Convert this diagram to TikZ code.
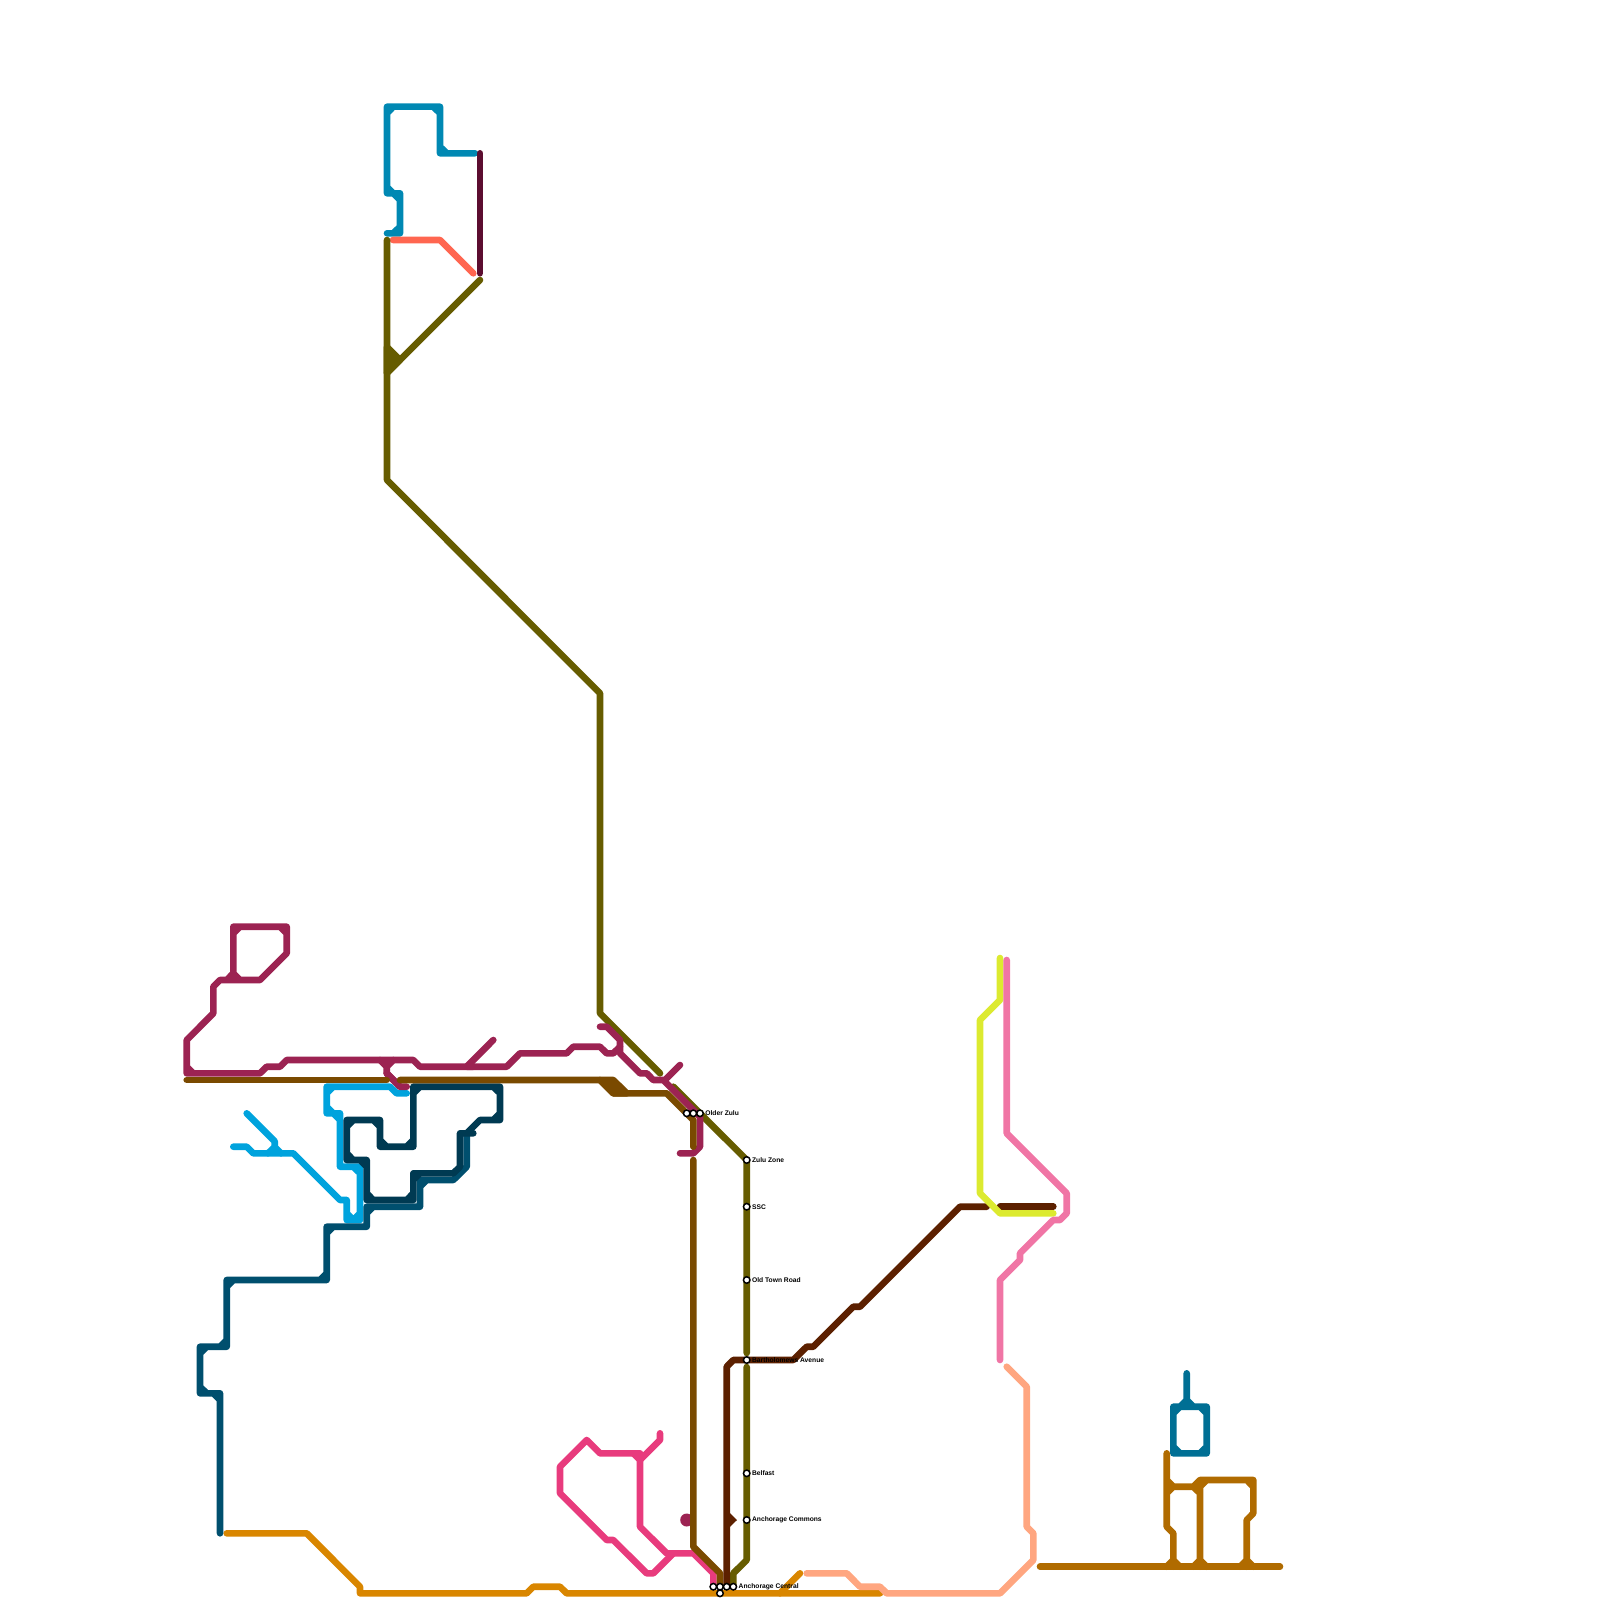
\documentclass[tikz,border=0pt]{standalone}
\usepackage{fontspec}
\setmainfont{Liberation Sans}
\usetikzlibrary{positioning}
\definecolor{oliveline}{HTML}{665C00}
\definecolor{cyanline}{HTML}{0088B3}
\definecolor{redline}{HTML}{FF6650}
\definecolor{plumline}{HTML}{5C0D30}
\definecolor{crimsonline}{HTML}{9C2352}
\definecolor{brownline}{HTML}{7A4A00}
\definecolor{rustline}{HTML}{5C2000}
\definecolor{skyline}{HTML}{00A3DD}
\definecolor{navyline}{HTML}{003A52}
\definecolor{tealline}{HTML}{004F6E}
\definecolor{seaTline}{HTML}{006F94}
\definecolor{amberline}{HTML}{B06B00}
\definecolor{orangeline}{HTML}{D98600}
\definecolor{salmonline}{HTML}{FFA680}
\definecolor{roseline}{HTML}{F075A5}
\definecolor{limeline}{HTML}{DCEA30}
\definecolor{magentaline}{HTML}{E83B7D}

\begin{document}
\begin{tikzpicture}[
    x=1pt, y=-1pt,
    track/.style={line width=6.6pt, line cap=round, line join=round},
    station/.style={
        circle, draw=black, fill=white, line width=1.5pt, minimum size=6.5pt,
        inner sep=0pt
    },
    stationlabel/.style={font=\bfseries\fontsize{6.7}{8}\selectfont, inner sep=0pt},
]
\useasboundingbox (0,0) rectangle (1600,1600);

% Light lines in the north
\draw[track, cyanline] (387,233.3) -- (400,233.3) -- (400,193.3) -- (393.3,193.3) -- (387,187) -- (387,106.7) -- (440,106.7) -- (440,153.3) -- (475,153.3)
    (387,113.3) -- (393.3,106.7) (433.3,106.7) -- (440,113.3) (440,146.7) -- (446.7,153.3) (393.3,233.3) -- (400,226.7) (387,187) -- (387,193.3) -- (393.3,193.3) (393.3,193.3) -- (400,200);
\draw[track, redline] (393,240) -- (440,240) -- (473.3,273.3);
\draw[track, plumline] (480,153.3) -- (480,273.3);

% Olive line
\draw[track, oliveline] (387,240) -- (387,480) -- (600,693.3) -- (600,1013.3) -- (660,1073.3);
\draw[track, oliveline, fill=oliveline] (387,347) -- (400,360) -- (387,373) -- cycle;
\draw[track, oliveline] (480,280) -- (387,373);
\draw[track, oliveline] (673.3,1086.7) -- (746.7,1160) -- (746.7,1353);
\draw[track, oliveline] (746.7,1367) -- (746.7,1560) -- (733.3,1573.3) -- (733.3,1586.7);

% Orange and salmon
\draw[track, orangeline] (226.7,1533.3) -- (306.7,1533.3) -- (360,1586.7) -- (360,1593.3) -- (526.7,1593.3) -- (533.3,1586.7) -- (560,1586.7) -- (566.7,1593.3) -- (880,1593.3);
\draw[track, orangeline] (800,1573.3) -- (780,1593.3);
\draw[track, salmonline] (806.7,1573.3) -- (846.7,1573.3) -- (860,1586.7) -- (880,1586.7) -- (886.7,1593.3) -- (1000,1593.3) -- (1033.3,1560) -- (1033.3,1533.3) -- (1026.7,1526.7) -- (1026.7,1386.7) -- (1006.7,1366.7);

% Magenta
\draw[track, magentaline] (660,1433.3) -- (660,1440) -- (640,1460) -- (640,1453.3) -- (600,1453.3) -- (586.7,1440) -- (560,1466.7) -- (560,1493.3) -- (606.7,1540) -- (613.3,1540) -- (646.7,1573.3) -- (653.3,1573.3) -- (673.3,1553.3);
\draw[track, magentaline] (633.3,1453.3) -- (640,1460) -- (640,1526.7) -- (666.7,1553.3) -- (693.3,1553.3) -- (713.3,1573.3) -- (713.3,1586.7);

% Crimson
\fill[crimsonline] (686.7,1520) circle (6.5pt);
\draw[track, crimsonline] (233.3,980) -- (233.3,926.7) -- (286.7,926.7) -- (286.7,953.3) -- (260,980) -- (220,980) -- (213.3,986.7) -- (213.3,1013.3) -- (186.7,1040) -- (186.7,1073.3) -- (260,1073.3) -- (266.7,1066.7) -- (280,1066.7) -- (286.7,1060) -- (413.3,1060) -- (420,1066.7) -- (506.7,1066.7) -- (520,1053.3) -- (566.7,1053.3) -- (573.3,1046.7) -- (600,1046.7) -- (606.7,1053.3) -- (613.3,1053.3) -- (620,1046.7)
    (233.3,933.3) -- (240,926.7) (280,926.7) -- (286.7,933.3) (226.7,980) -- (233.3,973.3) -- (240,980) (186.7,1066.7) -- (193.3,1073.3);
\draw[track, crimsonline] (600,1026.7) -- (606.7,1026.7) -- (620,1040) -- (620,1053.3) -- (640,1073.3) -- (646.7,1073.3) -- (653.3,1080) -- (663.3,1080) -- (700,1116.7) -- (700,1146.7) -- (693.3,1153.3) -- (680,1153.3);
\draw[track, crimsonline] (665,1080) -- (680,1065);
\draw[track, crimsonline] (466.7,1066.7) -- (493.3,1040) (466.7,1066.7) -- (473.3,1066.7);
\draw[track, crimsonline] (380,1060) -- (386.7,1066.7) -- (386.7,1073.3) -- (400,1086.7) (386.7,1066.7) -- (393.3,1060);

% Sky blue under the brown one
\draw[track, skyline] (233.3,1146.7) -- (246.7,1146.7) -- (253.3,1153.3) -- (293.3,1153.3) -- (340,1200) -- (346.7,1200) -- (346.7,1220) -- (360,1220) -- (360,1166.7) -- (340,1166.7) -- (340,1113.3) -- (326.7,1113.3) -- (326.7,1086.7) -- (390,1086.7) -- (396.7,1093.3) -- (406.7,1093.3)
    (346.7,1213.3) -- (353.3,1220) -- (360,1213.3) (326.7,1106.7) -- (333.3,1113.3) (326.7,1093.3) -- (333.3,1086.7) (333.3,1113.3) -- (340,1120) (353.3,1166.7) -- (360,1173.3);
\draw[track, skyline] (246.7,1113.3) -- (274.7,1141.3) -- (274.7,1147) -- (268,1153.3) (274.7,1147) -- (281,1153.3);
\draw[track, crimsonline] (386.7,1073.3) -- (400,1086.7) -- (406.7,1086.7);

% Teal and navy
\draw[track, tealline] (466.7,1133.3) -- (466.7,1166.7) -- (453.3,1180) -- (420,1180) -- (420,1206.7) -- (366.7,1206.7) -- (366.7,1226.7) -- (326.7,1226.7) -- (326.7,1280) -- (226.7,1280) -- (226.7,1346.7) -- (200,1346.7) -- (200,1393.3) -- (220,1393.3) -- (220,1533.3)
    (420,1186.7) -- (426.7,1180) (366.7,1213.3) -- (373.3,1206.7) (326.7,1233.3) -- (333.3,1226.7) (320,1280) -- (326.7,1273.3) (226.7,1286.7) -- (233.3,1280) (220,1346.7) -- (226.7,1340) (200,1353.3) -- (206.7,1346.7) (200,1386.7) -- (206.7,1393.3) (213.3,1393.3) -- (220,1400);
\draw[track, navyline] (346.7,1160) -- (346.7,1120) -- (380,1120) -- (380,1146.7) -- (413.3,1146.7) -- (413.3,1086.7) -- (500,1086.7) -- (500,1120) -- (480,1120) -- (466.7,1133.3) -- (460,1133.3) -- (460,1166.7) -- (453.3,1173.3) -- (413.3,1173.3) -- (413.3,1200) -- (366.7,1200) -- (366.7,1160) -- (346.7,1160)
    (346.7,1126.7) -- (353.3,1120) (373.3,1120) -- (380,1126.7) (380,1140) -- (386.7,1146.7) (406.7,1146.7) -- (413.3,1140) (413.3,1093.3) -- (420,1086.7) (493.3,1086.7) -- (500,1093.3) (500,1113.3) -- (493.3,1120) (346.7,1153.3) -- (353.3,1160) (360,1160) -- (366.7,1166.7) (366.7,1193.3) -- (373.3,1200) (406.7,1200) -- (413.3,1193.3) (413.3,1180) -- (420,1173.3) (466.7,1133.3) -- (473.3,1133.3);

% Brown
\draw[track, brownline] (186.7,1080) -- (386.7,1080);
\draw[track, brownline] (400,1080) -- (600,1080) -- (613.3,1093.3) -- (666.7,1093.3) -- (693.3,1120) -- (693.3,1146.7);
\draw[track, brownline, fill=brownline] (600,1080) -- (613.3,1080) -- (626.7,1093.3) -- (613.3,1093.3) -- cycle;
\draw[track, brownline] (693.3,1160) -- (693.3,1546.7) -- (720,1573.3) -- (720,1586.7);

% Rust
\draw[track, rustline] (726.7,1586.7) -- (726.7,1366.7) -- (733.3,1360) -- (793.3,1360) -- (806.7,1346.7) -- (813.3,1346.7) -- (853.3,1306.7) -- (860,1306.7) -- (960,1206.7) -- (986.7,1206.7);
\draw[track, rustline] (1000,1206.7) -- (1053.3,1206.7);
\fill[rustline] (726.7,1510) -- (737,1520) -- (726.7,1530) -- cycle;

% Rose and lime in the east
\draw[track, limeline] (1000,958) -- (1000,1000) -- (980,1020) -- (980,1193.3) -- (1000,1213.3) -- (1053.3,1213.3);
\draw[track, roseline] (1006.7,960) -- (1006.7,1133.3) -- (1066.7,1193.3) -- (1066.7,1213.3) -- (1060,1220) -- (1053.3,1220) -- (1020,1253.3) -- (1020,1260) -- (1000,1280) -- (1000,1360);

% Eastern pair
\draw[track, seaTline] (1186.7,1373.3) -- (1186.7,1400) (1173.3,1406.7) -- (1206.7,1406.7) -- (1206.7,1453.3) -- (1173.3,1453.3) -- cycle
    (1173.3,1413.3) -- (1180,1406.7) -- (1186.7,1400) -- (1193.3,1406.7) (1200,1406.7) -- (1206.7,1413.3) (1173.3,1446.7) -- (1180,1453.3) (1200,1453.3) -- (1206.7,1446.7);
\draw[track, amberline] (1040,1566.7) -- (1280,1566.7);
\draw[track, amberline] (1166.7,1453.3) -- (1166.7,1526.7) -- (1173.3,1533.3) -- (1173.3,1566.7)
    (1166.7,1480) -- (1173.3,1486.7) -- (1193.3,1486.7) -- (1200,1480) -- (1253.3,1480) -- (1253.3,1513.3) -- (1246.7,1520) -- (1246.7,1566.7)
    (1200,1480) -- (1200,1566.7) (1166.7,1566.7) -- (1173.3,1560) -- (1180,1566.7) (1193.3,1566.7) -- (1200,1560) -- (1206.7,1566.7) (1240,1566.7) -- (1246.7,1560) -- (1253.3,1566.7)
    (1166.7,1493.3) -- (1173.3,1486.7) (1193.3,1486.7) -- (1200,1493.3) (1200,1486.7) -- (1206.7,1480) (1246.7,1480) -- (1253.3,1486.7);

% Stations
\node[station] (olderA) at (686.7,1113.3) {};
\node[station] (olderB) at (693.3,1113.3) {};
\node[station] (olderC) at (700,1113.3) {};
\node[station] (zulu) at (746.7,1160) {};
\node[station] (ssc) at (746.7,1206.7) {};
\node[station] (oldtown) at (746.7,1280) {};
\node[station] (avenue) at (746.7,1360) {};
\node[station] (belfast) at (746.7,1473.3) {};
\node[station] (commons) at (746.7,1520) {};
\node[station] (centralA) at (713.3,1586.7) {};
\node[station] (centralB) at (720,1586.7) {};
\node[station] (centralC) at (726.7,1586.7) {};
\node[station] (centralD) at (733.3,1586.7) {};
\node[station] (centralE) at (720,1593.3) {};

% Labels
\node[stationlabel, right=1.2pt of olderC] {Older Zulu};
\node[stationlabel, right=1.2pt of zulu] {Zulu Zone};
\node[stationlabel, right=1.2pt of ssc] {SSC};
\node[stationlabel, right=1.2pt of oldtown] {Old Town Road};
\node[stationlabel, right=1.2pt of avenue] {Bartholomews Avenue};
\node[stationlabel, right=1.2pt of belfast] {Belfast};
\node[stationlabel, right=1.2pt of commons] {Anchorage Commons};
\node[stationlabel, right=1.2pt of centralD] {Anchorage Central};

\end{tikzpicture}
\end{document}
